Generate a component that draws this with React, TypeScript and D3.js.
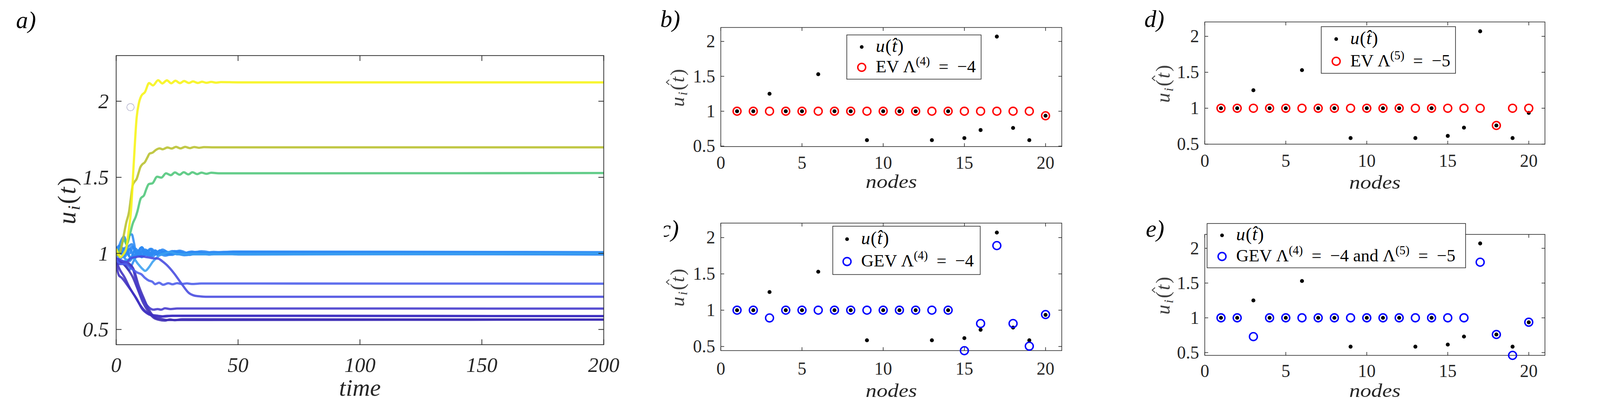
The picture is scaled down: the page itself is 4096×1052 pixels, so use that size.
import React from 'react';
import * as d3 from 'd3';

// ---------- panel a: trajectories u_i(t) ----------
const TIME_TICKS = [0, 50, 100, 150, 200];
const U_TICKS_A = [0.5, 1, 1.5, 2];

const YELLOW: [number, number][] = [[0, 1.03], [0.8, 1.0], [1.7, 0.975], [3, 0.995], [4.1, 1.03], [4.5, 1.07], [5.3, 1.17], [6.06, 1.276], [7.2, 1.59], [8.4, 1.893], [9.3, 1.986], [10.3, 2.035], [11.8, 2.06], [13.5, 2.119], [15.1, 2.104], [17.2, 2.138], [18.9, 2.117], [20.8, 2.137], [22.6, 2.118], [24.3, 2.135], [26.2, 2.119], [27.9, 2.133], [29.8, 2.12], [31.5, 2.13], [33.5, 2.12], [35.2, 2.128], [37.1, 2.121], [39, 2.127], [41, 2.122], [43, 2.126], [50, 2.124], [200, 2.124]];
const OLIVE: [number, number][] = [[0, 0.99], [1.2, 0.99], [2.0, 1.03], [3.0, 1.11], [4.1, 1.2], [5.3, 1.276], [6.0, 1.36], [6.8, 1.449], [7.5, 1.47], [8.4, 1.49], [9.2, 1.53], [9.9, 1.566], [10.7, 1.585], [11.8, 1.6], [12.8, 1.63], [13.7, 1.656], [14.9, 1.662], [16.3, 1.68], [17.8, 1.69], [19.1, 1.684], [21, 1.696], [22.8, 1.689], [24.5, 1.7], [26.4, 1.69], [28.3, 1.7], [30.2, 1.692], [32, 1.699], [34, 1.694], [36, 1.698], [40, 1.697], [200, 1.697]];
const GREEN: [number, number][] = [[0, 0.99], [1.5, 1.02], [3.2, 1.09], [4.3, 1.06], [5.7, 1.13], [6.8, 1.196], [8.0, 1.24], [8.7, 1.276], [10.1, 1.362], [11.4, 1.381], [12.3, 1.42], [13.35, 1.455], [14.9, 1.461], [16.8, 1.504], [18.5, 1.498], [20.45, 1.526], [22.4, 1.514], [24.1, 1.532], [26, 1.517], [27.7, 1.533], [29.6, 1.519], [31.3, 1.533], [33.2, 1.521], [35, 1.531], [37, 1.523], [39, 1.53], [42, 1.526], [200, 1.528]];

const BLUE_1: [number, number][] = [[0, 1.0], [1, 1.04], [2.2, 1.09], [3.2, 1.11], [4.1, 1.07], [5, 0.99], [6.2, 0.97], [7.5, 1.02], [9, 0.99], [11, 1.02], [13, 0.985], [15, 1.015], [17, 0.99], [19, 1.012], [21, 0.993], [23, 1.01], [26, 0.995], [30, 1.006], [40, 1.0], [200, 1.0]];
const BLUE_2: [number, number][] = [[0, 0.98], [2, 1.0], [3.5, 0.99], [4.6, 1.07], [5.5, 1.12], [6.4, 1.125], [7.3, 1.07], [8.2, 1.0], [9.5, 0.985], [11, 1.02], [13, 0.99], [15, 1.012], [17, 0.99], [20, 1.01], [25, 0.995], [200, 1.0]];
const BLUE_3: [number, number][] = [[0, 1.04], [1.5, 1.01], [3, 1.03], [4.5, 1.04], [6.4, 1.06], [7.5, 1.03], [9, 1.0], [10.5, 1.04], [12, 1.0], [14, 1.03], [16, 1.0], [18, 1.02], [21, 1.0], [24, 1.015], [28, 1.0], [33, 1.01], [38, 1.0], [44, 1.01], [200, 1.005]];
const BLUE_4: [number, number][] = [[0, 0.97], [2, 0.94], [3.5, 0.95], [5, 0.96], [6.8, 0.97], [9, 0.93], [11, 0.895], [11.9, 0.885], [13.5, 0.91], [15, 0.945], [16.4, 0.968], [18, 0.99], [20, 1.0], [22, 1.01], [25, 0.995], [200, 1.0]];
const BLUE_5: [number, number][] = [[0, 0.97], [1.5, 0.94], [3, 0.93], [4.3, 0.91], [5.3, 0.89], [6.3, 0.92], [7.5, 0.96], [9, 0.99], [10.5, 0.975], [12, 1.01], [14, 0.985], [16, 1.01], [18, 0.99], [21, 1.008], [25, 0.995], [30, 1.004], [200, 0.998]];
const BLUE_6: [number, number][] = [[0, 1.03], [1.3, 1.05], [2.5, 1.0], [4, 1.04], [5.5, 1.0], [7, 1.04], [8.5, 0.99], [10, 1.035], [12, 0.99], [14, 1.025], [16, 0.995], [18, 1.02], [20, 0.995], [23, 1.015], [27, 0.998], [31, 1.012], [35, 0.998], [40, 1.01], [46, 1.0], [52, 1.008], [200, 1.003]];
const BLUE_7: [number, number][] = [[0, 1.0], [2, 0.97], [4, 1.01], [6, 0.975], [8, 1.03], [10, 0.98], [12, 1.025], [14, 0.985], [16, 1.02], [18, 0.99], [20, 1.015], [23, 0.99], [26, 1.012], [30, 0.99], [34, 1.008], [38, 0.992], [43, 1.004], [50, 0.993], [200, 0.997]];
const BLUE_8: [number, number][] = [[0, 0.99], [1.8, 1.02], [3.6, 0.98], [5.4, 1.03], [7.2, 0.985], [9, 1.02], [10.8, 0.98], [12.6, 1.02], [14.4, 0.985], [16.2, 1.018], [18, 0.99], [20, 1.014], [22, 0.99], [24, 1.01], [28, 0.995], [200, 1.0]];
const BLUE_9: [number, number][] = [[0, 1.02], [2, 1.0], [4, 0.96], [5.5, 0.95], [7, 0.98], [9, 1.0], [11, 0.98], [13, 1.01], [15, 0.98], [17, 1.005], [20, 0.985], [24, 1.0], [28, 0.988], [33, 0.998], [200, 0.992]];
const BLUE_10: [number, number][] = [[0, 1.0], [2.5, 1.035], [4.5, 1.01], [6.5, 1.045], [8.5, 1.0], [10.5, 1.04], [12.5, 1.0], [14.5, 1.03], [16.5, 1.0], [19, 1.025], [22, 1.0], [26, 1.018], [30, 1.0], [35, 1.014], [41, 1.002], [48, 1.012], [200, 1.008]];

const MID_080: [number, number][] = [[0, 0.96], [2, 0.93], [4, 0.93], [5.5, 0.91], [6.8, 0.894], [8.5, 0.875], [10.3, 0.863], [11.8, 0.839], [13.3, 0.822], [14.9, 0.813], [16, 0.798], [17.6, 0.807], [19.3, 0.794], [21.4, 0.804], [23.1, 0.797], [25, 0.804], [27, 0.799], [29, 0.803], [31, 0.799], [35, 0.802], [200, 0.801]];
const MID_072: [number, number][] = [[0, 0.97], [2, 0.955], [4.1, 0.943], [6, 0.968], [7.6, 0.975], [10.3, 0.98], [13, 0.974], [15.3, 0.968], [17.2, 0.966], [18.8, 0.95], [20.6, 0.926], [23.7, 0.87], [26.8, 0.801], [29.8, 0.74], [32.2, 0.722], [33.7, 0.719], [37.5, 0.715], [200, 0.715]];
const LOW_064: [number, number][] = [[0, 0.97], [2, 0.95], [4, 0.93], [5.5, 0.92], [6.8, 0.9], [8.7, 0.782], [10.7, 0.708], [12.6, 0.659], [15.3, 0.63], [17, 0.634], [18.4, 0.63], [20, 0.639], [22.3, 0.634], [25, 0.638], [200, 0.637]];
const LOW_059A: [number, number][] = [[0, 0.95], [1.46, 0.894], [3.4, 0.844], [5.3, 0.782], [7.6, 0.72], [9.9, 0.659], [11.8, 0.622], [14.5, 0.597], [17.2, 0.59], [20, 0.585], [23, 0.59], [200, 0.588]];
const LOW_059B: [number, number][] = [[0, 0.93], [1.1, 0.856], [2.2, 0.841], [4.2, 0.8], [6.1, 0.757], [8.4, 0.702], [10.7, 0.634], [13, 0.603], [15.6, 0.588], [18, 0.584], [21, 0.59], [200, 0.588]];
const LOW_056A: [number, number][] = [[0, 0.96], [3.0, 0.93], [4.9, 0.894], [6.8, 0.844], [8.7, 0.77], [11, 0.678], [13, 0.622], [15.3, 0.578], [17.6, 0.563], [19.9, 0.558], [22, 0.566], [24, 0.561], [27, 0.567], [200, 0.565]];
const LOW_056B: [number, number][] = [[0, 0.94], [1.5, 0.93], [3.8, 0.943], [5.5, 0.93], [7.2, 0.894], [9.1, 0.794], [11.4, 0.702], [13.7, 0.622], [16, 0.578], [18.9, 0.568], [21, 0.562], [200, 0.565]];

// stray marker visible in panel a
const STRAY_POINT: [number, number] = [5.87, 1.961];

// ---------- panels b-e: node values ----------
const NODES = [1, 2, 3, 4, 5, 6, 7, 8, 9, 10, 11, 12, 13, 14, 15, 16, 17, 18, 19, 20];
const NODE_TICKS = [0, 5, 10, 15, 20];
const U_TICKS = [0.5, 1, 1.5, 2];
const U_HAT = [1, 1, 1.25, 1, 1, 1.53, 1, 1, 0.585, 1, 1, 1, 0.585, 1, 0.615, 0.73, 2.07, 0.76, 0.585, 0.935];
const EV4 = [1, 1, 1, 1, 1, 1, 1, 1, 1, 1, 1, 1, 1, 1, 1, 1, 1, 1, 1, 0.935];
const GEV4 = [1, 1, 0.893, 1, 1, 1, 1, 1, 1, 1, 1, 1, 1, 1, 0.442, 0.816, 1.89, 0.816, 0.504, 0.94];
const EV5 = [1, 1, 1, 1, 1, 1, 1, 1, 1, 1, 1, 1, 1, 1, 1, 1, 1, 0.76, 1, 1];
const GEV45 = [1, 1, 0.73, 1, 1, 1, 1, 1, 1, 1, 1, 1, 1, 1, 1, 1, 1.8, 0.76, 0.46, 0.937];

const AX = '#262626';
const FONT = '"Liberation Serif", "Times New Roman", serif';
const SP = '\u2002'; // wider space around "=" like LaTeX math

const TRAJECTORIES = [
  { pts: BLUE_1, color: '#2d8af4' },
  { pts: BLUE_2, color: '#2d8af4' },
  { pts: BLUE_3, color: '#2d8af4' },
  { pts: BLUE_5, color: '#2d8af4' },
  { pts: BLUE_6, color: '#2d8af4' },
  { pts: BLUE_7, color: '#2d8af4' },
  { pts: BLUE_8, color: '#2d8af4' },
  { pts: BLUE_9, color: '#2d8af4' },
  { pts: BLUE_10, color: '#2d8af4' },
  { pts: BLUE_4, color: '#3a9ff0' },
  { pts: LOW_056B, color: '#3e2db5' },
  { pts: LOW_056A, color: '#3e2db5' },
  { pts: LOW_059B, color: '#3f30c0' },
  { pts: LOW_059A, color: '#3f30c0' },
  { pts: LOW_064, color: '#4338cc' },
  { pts: MID_072, color: '#4649df' },
  { pts: MID_080, color: '#4b5cea' },
  { pts: GREEN, color: '#4fc67a' },
  { pts: OLIVE, color: '#b8c02e' },
  { pts: YELLOW, color: '#f7f414' },
];

type Part = { t?: string; sup?: string };

const PANELS = [
  {
    id: 'b', left: 2558, right: 3768, top: 97.6, bottom: 520.4, yMin: 0.493, fit: EV4, color: '#ff0000',
    label: [{ t: 'EV Λ' }, { sup: '(4)' }, { t: `${SP}=${SP}−4` }] as Part[],
    lg: { left: 3005, right: 3481.7, top: 124, bottom: 281, mx: 3058, y1: 166.7, y2: 239 },
    tickBase: 599, xlabBase: 667, ylabX: 2427, tag: { x: 2343, y: 96, text: 'b)', clip: false },
  },
  {
    id: 'c', left: 2558, right: 3768, top: 792, bottom: 1244.6, yMin: 0.443, fit: GEV4, color: '#0000ff',
    label: [{ t: 'GEV Λ' }, { sup: '(4)' }, { t: `${SP}=${SP}−4` }] as Part[],
    lg: { left: 2955.3, right: 3478.6, top: 803, bottom: 974.5, mx: 3006, y1: 849, y2: 928.5 },
    tickBase: 1330, xlabBase: 1409, ylabX: 2427, tag: { x: 2343, y: 840, text: 'c)', clip: true },
  },
  {
    id: 'd', left: 4275.5, right: 5482.7, top: 78, bottom: 511.8, yMin: 0.5, fit: EV5, color: '#ff0000',
    label: [{ t: 'EV Λ' }, { sup: '(5)' }, { t: `${SP}=${SP}−5` }] as Part[],
    lg: { left: 4688.8, right: 5165.3, top: 94.7, bottom: 260.2, mx: 4741.8, y1: 138.7, y2: 217.6 },
    tickBase: 592, xlabBase: 670, ylabX: 4151, tag: { x: 4061, y: 96, text: 'd)', clip: false },
  },
  {
    id: 'e', left: 4275.5, right: 5482.7, top: 832.1, bottom: 1261.5, yMin: 0.46, fit: GEV45, color: '#0000ff',
    label: [{ t: 'GEV Λ' }, { sup: '(4)' }, { t: `${SP}=${SP}−4 and Λ` }, { sup: '(5)' }, { t: `${SP}=${SP}−5` }] as Part[],
    lg: { left: 4283.7, right: 5201, top: 793.4, bottom: 950.7, mx: 4336.7, y1: 835.5, y2: 910.5 },
    tickBase: 1339, xlabBase: 1409, ylabX: 4151, tag: { x: 4066, y: 840, text: 'e)', clip: false },
  },
];

function renderParts(parts: Part[]) {
  const out: React.ReactNode[] = [];
  let raised = false;
  parts.forEach((p, i) => {
    if (p.sup) {
      out.push(<tspan key={i} dy={-25} fontSize={43}>{p.sup}</tspan>);
      raised = true;
    } else {
      out.push(<tspan key={i} dy={raised ? 25 : 0} fontSize={62}>{p.t}</tspan>);
      raised = false;
    }
  });
  return out;
}

function PanelA() {
  const L = 412.3, R = 2142.5, T = 197.3, B = 1223.6;
  const x = d3.scaleLinear().domain([0, 200]).range([L, R]);
  const y = d3.scaleLinear().domain([0.4, 2.3]).range([B, T]);
  const line = d3.line<[number, number]>().x(d => x(d[0])).y(d => y(d[1])).curve(d3.curveMonotoneX);
  const tk = 19;
  return (
    <g>
      <clipPath id="clipA"><rect x={L} y={T} width={R - L} height={B - T} /></clipPath>
      <g clipPath="url(#clipA)">
        {TRAJECTORIES.map((tr, i) => (
          <path key={i} d={line(tr.pts) || ''} fill="none" stroke={tr.color} strokeWidth={8} strokeOpacity={0.88} strokeLinejoin="round" />
        ))}
      </g>
      <circle cx={x(STRAY_POINT[0])} cy={y(STRAY_POINT[1])} r={13} fill="none" stroke="#8c8cb4" strokeWidth={1.5} />
      <rect x={L} y={T} width={R - L} height={B - T} fill="none" stroke={AX} strokeWidth={2.6} />
      {TIME_TICKS.map(t => (
        <g key={t}>
          <line x1={x(t)} x2={x(t)} y1={B} y2={B - tk} stroke={AX} strokeWidth={2.6} />
          <line x1={x(t)} x2={x(t)} y1={T} y2={T + tk} stroke={AX} strokeWidth={2.6} />
          <text x={x(t)} y={1320} textAnchor="middle" fontSize={74} fontStyle="italic" fontFamily={FONT} fill={AX}>{t}</text>
        </g>
      ))}
      {U_TICKS_A.map(u => (
        <g key={u}>
          <line x1={L} x2={L + tk} y1={y(u)} y2={y(u)} stroke={AX} strokeWidth={2.6} />
          <line x1={R} x2={R - tk} y1={y(u)} y2={y(u)} stroke={AX} strokeWidth={2.6} />
          <text x={386} y={y(u) + 25} textAnchor="end" fontSize={74} fontStyle="italic" fontFamily={FONT} fill={AX}>{u}</text>
        </g>
      ))}
      <text x={(L + R) / 2} y={1405} textAnchor="middle" fontSize={86} fontStyle="italic" fontFamily={FONT} fill={AX}>time</text>
      <text transform={`translate(268,${(T + B) / 2}) rotate(-90)`} textAnchor="middle" fontSize={90} fontStyle="italic" fontFamily={FONT} fill={AX} letterSpacing={5}>
        <tspan>u</tspan><tspan fontSize={62} dy={15}>i</tspan><tspan dy={-15} fontStyle="normal">(</tspan><tspan>t</tspan><tspan fontStyle="normal">)</tspan>
      </text>
      <text x={57} y={100} fontSize={85} fontStyle="italic" fontFamily={FONT} fill="#000">a)</text>
    </g>
  );
}

function ScatterPanel({ p }: { p: typeof PANELS[number] }) {
  const x = d3.scaleLinear().domain([0, 21]).range([p.left, p.right]);
  const y = d3.scaleLinear().domain([p.yMin, 2.2]).range([p.bottom, p.top]);
  const tk = 12;
  const lg = p.lg;
  const midY = (p.top + p.bottom) / 2;
  return (
    <g>
      <rect x={p.left} y={p.top} width={p.right - p.left} height={p.bottom - p.top} fill="none" stroke={AX} strokeWidth={2.2} />
      {NODE_TICKS.map(t => (
        <g key={t}>
          <line x1={x(t)} x2={x(t)} y1={p.bottom} y2={p.bottom - tk} stroke={AX} strokeWidth={2.2} />
          <line x1={x(t)} x2={x(t)} y1={p.top} y2={p.top + tk} stroke={AX} strokeWidth={2.2} />
          <text x={x(t)} y={p.tickBase} textAnchor="middle" fontSize={63} fontFamily={FONT} fill={AX}>{t}</text>
        </g>
      ))}
      {U_TICKS.map(u => (
        <g key={u}>
          <line x1={p.left} x2={p.left + tk} y1={y(u)} y2={y(u)} stroke={AX} strokeWidth={2.2} />
          <line x1={p.right} x2={p.right - tk} y1={y(u)} y2={y(u)} stroke={AX} strokeWidth={2.2} />
          <text x={p.left - 20} y={y(u) + 21} textAnchor="end" fontSize={63} fontFamily={FONT} fill={AX}>{u}</text>
        </g>
      ))}
      {NODES.map((n, i) => (
        <circle key={'d' + n} cx={x(n)} cy={y(U_HAT[i])} r={7} fill="#000" />
      ))}
      {NODES.map((n, i) => (
        <circle key={'c' + n} cx={x(n)} cy={y(p.fit[i])} r={14} fill="none" stroke={p.color} strokeWidth={5} />
      ))}
      <text x={(p.left + p.right) / 2} y={p.xlabBase} textAnchor="middle" fontSize={66} fontStyle="italic" fontFamily={FONT} fill={AX} textLength={182} lengthAdjust="spacingAndGlyphs">nodes</text>
      <text transform={`translate(${p.ylabX},${midY + 70}) rotate(-90)`} textAnchor="start" fontSize={70} fontStyle="italic" fontFamily={FONT} fill="#404040" letterSpacing={5}>
        <tspan>u</tspan><tspan fontSize={48} dy={12}>i</tspan><tspan dy={-12} fontStyle="normal">(</tspan><tspan>t</tspan><tspan fontStyle="normal">)</tspan>
      </text>
      {/* hat over the t of the rotated label */}
      <path d={`M${p.ylabX - 52},${midY - 8} L${p.ylabX - 62},${midY - 17} L${p.ylabX - 52},${midY - 26}`} fill="none" stroke="#404040" strokeWidth={3} />
      {/* legend */}
      <rect x={lg.left} y={lg.top} width={lg.right - lg.left} height={lg.bottom - lg.top} fill="#fff" stroke={AX} strokeWidth={2.2} />
      <circle cx={lg.mx} cy={lg.y1} r={6.5} fill="#000" />
      <text x={lg.mx + 50} y={lg.y1 + 18} fontSize={64} fontFamily={FONT} fill="#000" letterSpacing={2}>
        <tspan fontStyle="italic">u</tspan><tspan>(</tspan><tspan fontStyle="italic">{'t\u0302'}</tspan><tspan>)</tspan>
      </text>
      <circle cx={lg.mx} cy={lg.y2} r={14} fill="none" stroke={p.color} strokeWidth={5} />
      <text x={lg.mx + 50} y={lg.y2 + 18} fontFamily={FONT} fill="#000">
        {renderParts(p.label)}
      </text>
      {p.tag.clip && (
        <clipPath id={'tag' + p.id}><rect x={p.tag.x + 13} y={p.tag.y - 90} width={200} height={140} /></clipPath>
      )}
      <text x={p.tag.x} y={p.tag.y} fontSize={85} fontStyle="italic" fontFamily={FONT} fill="#000" clipPath={p.tag.clip ? `url(#tag${p.id})` : undefined}>{p.tag.text}</text>
    </g>
  );
}

export default function App() {
  const W = 5678, H = 1459;
  return (
    <>
      <style>{'body{margin:0;overflow:hidden}'}</style>
      <svg width={4096} height={1052} viewBox={`0 0 ${W} ${H}`} preserveAspectRatio="none" style={{ display: 'block' }}>
        <rect width={W} height={H} fill="#fff" />
        <PanelA />
        {PANELS.map(p => <ScatterPanel key={p.id} p={p} />)}
      </svg>
    </>
  );
}
